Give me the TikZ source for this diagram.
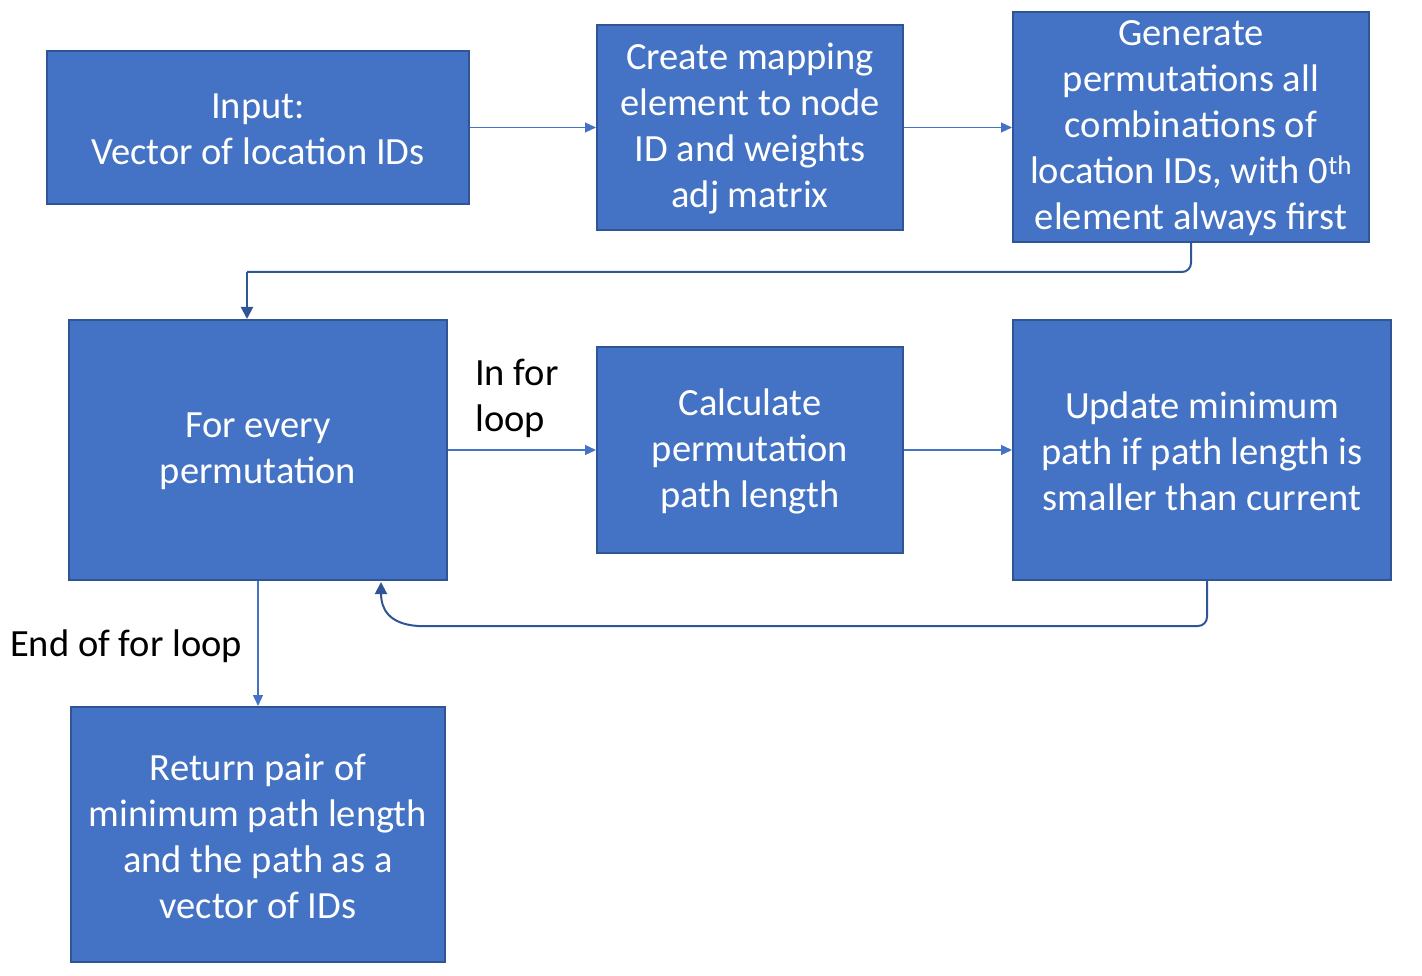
\documentclass[tikz,border=0pt]{standalone}
\usepackage{fontspec}
\setmainfont{Carlito}
\usetikzlibrary{arrows.meta,calc}
\definecolor{boxfill}{HTML}{4472C4}
\definecolor{boxline}{HTML}{2F5597}
\tikzset{
  box/.style={draw=boxline, line width=2pt, fill=boxfill, inner sep=0pt},
  txt/.style={text=white, align=center, font=\fontsize{38.5}{46}\selectfont, inner sep=0pt, yshift=-1.5pt},
  arr/.style={draw=boxfill, line width=1.2pt, -{Triangle[length=11pt,width=10pt]}},
  conn/.style={draw=boxline, line width=2pt},
  connarr/.style={draw=boxline, line width=2pt, -{Triangle[length=12pt,width=12pt]}},
  lbl/.style={text=black, font=\fontsize{38.5}{46}\selectfont, inner sep=0pt, align=left}
}
\begin{document}
\begin{tikzpicture}[x=1pt,y=-1pt]
\useasboundingbox (0,0) rectangle (1422,976);
\node[box, minimum width=422pt, minimum height=153pt, label={[txt]center:{Input:\\Vector of location IDs}}] (inp) at (258,127.5) {};
\node[box, minimum width=306pt, minimum height=205pt, label={[txt]center:{Create mapping\\element to node\\ID and weights\\adj matrix}}] (map) at (750,127.5) {};
\node[box, minimum width=356pt, minimum height=230pt, label={[txt]center:{Generate\\permutations all\\combinations of\\location IDs, with 0\textsuperscript{th}\\element always first}}] (gen) at (1191,127) {};
\node[box, minimum width=378pt, minimum height=260pt, label={[txt]center:{For every\\permutation}}] (fe) at (258,450) {};
\node[box, minimum width=306pt, minimum height=206pt, label={[txt]center:{Calculate\\permutation\\path length}}] (calc) at (750,450) {};
\node[box, minimum width=378pt, minimum height=260pt, label={[txt]center:{Update minimum\\path if path length is\\smaller than current}}] (upd) at (1202,450) {};
\node[box, minimum width=374pt, minimum height=255pt, label={[txt]center:{Return pair of\\minimum path length\\and the path as a\\vector of IDs}}] (ret) at (258,834.5) {};
\node[lbl, anchor=north west] (inl) at (475,359) {In for\\loop};
\node[lbl, anchor=west] (endl) at (10,646) {End of for loop};
\draw[arr] (inp.east) -- (map.west |- inp.east);
\draw[arr] (map.east) -- (gen.west |- map.east);
\draw[arr] (fe.east) -- (calc.west |- fe.east);
\draw[arr] (calc.east) -- (upd.west |- calc.east);
\draw[arr] (fe.south) -- (ret.north);
\coordinate (c1) at (247,272);
\draw[conn, rounded corners=9pt] (gen.south) |- (c1);
\draw[connarr] (c1) -- (c1 |- fe.north);
\coordinate (c2) at (418,626);
\coordinate (c3) at (381,582);
\draw[conn, rounded corners=9pt] ($(upd.south)+(5,0)$) |- (c2);
\draw[connarr] (c2) .. controls (388,624) and (381,608) .. (c3);
\end{tikzpicture}
\end{document}
